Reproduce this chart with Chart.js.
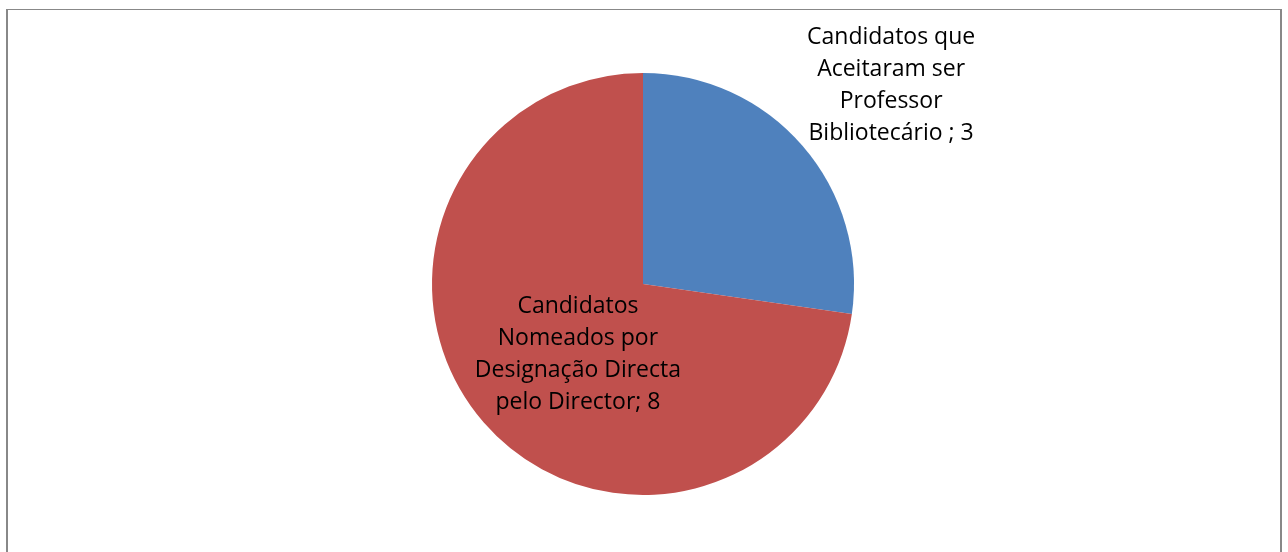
<!DOCTYPE html>
<html>
<head>
<meta charset="utf-8">
<script src="https://cdn.jsdelivr.net/npm/chart.js@4"></script>
<style>
  html, body { margin: 0; padding: 0; background: #fff; }
  #frame {
    position: absolute; left: 6px; top: 9px; width: 1272px; height: 560px;
    border-left: 2px solid #888; border-right: 2px solid #888; border-top: 1px solid #888;
  }
  #wrap { position: absolute; left: 0; top: 0; width: 1288px; height: 552px; }
</style>
</head>
<body>
<div id="frame"></div>
<div id="wrap"><canvas id="pieChart" width="1288" height="552"></canvas></div>
<script>
// chart data
const categories = [
    ["Candidatos que", "Aceitaram ser", "Professor", "Bibliotecário ; 3"],
    ["Candidatos", "Nomeados por", "Designação Directa", "pelo Director; 8"]
];
const values = [3, 8];
const sliceColors = ["#4F81BD", "#C0504D"];

// label placement: fraction of radius, and angle tweak (degrees) from the slice middle
const labelDistance = [1.507, 0.453];
const labelAngleShift = [2.2, -6.2];

const sliceLabels = {
    id: "sliceLabels",
    afterDatasetsDraw(chart) {
        const ctx = chart.ctx;
        const meta = chart.getDatasetMeta(0);
        ctx.save();
        ctx.font = "23px 'Open Sans', sans-serif";
        ctx.fillStyle = "#000";
        ctx.textAlign = "center";
        ctx.textBaseline = "middle";
        meta.data.forEach(function (arc, i) {
            const mid = (arc.startAngle + arc.endAngle) / 2 + labelAngleShift[i] * Math.PI / 180;
            const r = arc.outerRadius * labelDistance[i];
            const cx = arc.x + Math.cos(mid) * r;
            const cy = arc.y + Math.sin(mid) * r;
            const lines = categories[i];
            const lh = 32;
            lines.forEach(function (line, j) {
                ctx.fillText(line, cx, cy + (j - (lines.length - 1) / 2) * lh);
            });
        });
        ctx.restore();
    }
};

let ctx = document.getElementById("pieChart").getContext("2d");
let pieChart = new Chart(ctx, {
    type: "pie",
    data: {
        labels: categories.map(l => l.join(" ")),
        datasets: [{
            data: values,
            backgroundColor: sliceColors,
            borderWidth: 0
        }]
    },
    options: {
        responsive: false,
        animation: false,
        layout: { padding: { top: 73, bottom: 57, left: 0, right: 2 } },
        plugins: {
            legend: { display: false },
            tooltip: { enabled: false }
        }
    },
    plugins: [sliceLabels]
});
</script>
</body>
</html>
